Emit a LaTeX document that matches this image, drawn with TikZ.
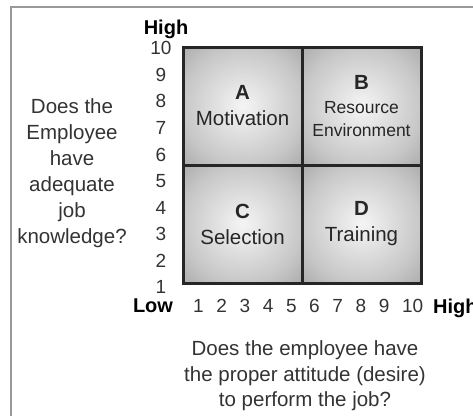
\documentclass[tikz,border=0pt]{standalone}
\usepackage{fontspec}
\setmainfont{Liberation Sans}
\usetikzlibrary{positioning}
\pgfdeclareradialshading{cellshade}{\pgfpoint{0bp}{0bp}}{color(0bp)=(black!4); color(25bp)=(black!22); color(36bp)=(black!33); color(50bp)=(black!33)}

\begin{document}
\begin{tikzpicture}[x=1pt,y=-1pt,
  cell/.style={draw=black!85,line width=3pt,outer sep=0pt,shading=cellshade,minimum width=119pt,minimum height=118pt,align=center,text=black!85,font=\fontsize{20.5}{26}\selectfont},
  num/.style={font=\fontsize{19}{22}\selectfont,text=black!80,inner sep=0pt,text height=13.5pt,text depth=0pt},
  ends/.style={font=\bfseries\fontsize{20}{22}\selectfont,inner sep=0pt,text height=14.5pt,text depth=0pt},
  ask/.style={font=\fontsize{20.5}{26}\selectfont,text=black!80,align=center,inner sep=0pt}]
\useasboundingbox (0,0) rectangle (473,416);
\draw[black!40,line width=1.5pt] (11,416)--(11,7)--(473,7);
% the four cells
\node[cell] (qa) at (242.5,106) {\textbf{A}\\Motivation};
\node[cell,right=0pt of qa] (qb) {\textbf{B}\\[-2pt]{\fontsize{17.5}{23}\selectfont Resource}\\[-3pt]{\fontsize{17.5}{23}\selectfont Environment}};
\node[cell,below=0pt of qa] (qc) {\textbf{C}\\Selection};
\node[cell,right=0pt of qc] (qd) {\textbf{D}\\Training};
\foreach \n in {1,...,10}
  \node[num] (y\n) at (161,{287-(\n-1)*26.55}) {\n};
\foreach \n in {1,...,10}
  \node[num,anchor=west] (x\n) at ({193+(\n-1)*23.2},306) {\n};
\node[ends] (hiy) at (166,27) {High};
\node[ends] (low) at (153,305) {Low};
\node[ends,anchor=west] (hix) at (433,306) {High};
\node[ask] (asky) at (72,173) {Does the\\Employee\\have\\adequate\\job\\knowledge?};
\node[ask,font=\fontsize{20.5}{25.5}\selectfont] (askx) at (305,376) {Does the employee have\\the proper attitude (desire)\\to perform the job?};
\end{tikzpicture}
\end{document}
